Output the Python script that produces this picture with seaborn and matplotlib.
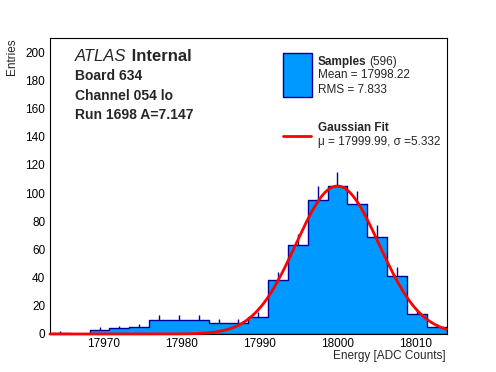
import numpy as np
import pandas as pd
import matplotlib
matplotlib.use("Agg")
import matplotlib.pyplot as plt
from matplotlib.ticker import MultipleLocator, FixedLocator
import seaborn as sns

# ---- data ----
x_min, x_max = 17963.17, 18013.96
counts = [1, 0, 3, 4, 5, 10, 10, 10, 8, 8, 12, 38, 63, 95, 105, 92, 69, 41, 14, 5]
n_entries = 596
mean_text = "17998.22"
rms_text = "7.833"
fit_mu = 17999.99
fit_sigma = 5.332
fit_amp = 105.0
x_ticks = [17970, 17980, 17990, 18000, 18010]
y_ticks = [0, 20, 40, 60, 80, 100, 120, 140, 160, 180, 200]
y_max = 210

fill_color = "#0099ff"
edge_color = "#000099"
fit_color = "#ff0000"

sns.set_theme(style="white")
plt.rcParams["font.family"] = ["Liberation Sans", "DejaVu Sans"]

W, H = 496, 372
fig = plt.figure(figsize=(W / 100, H / 100), dpi=100)
ax = fig.add_axes([50 / W, 1 - 334 / H, 396.5 / W, 296 / H])

edges = np.linspace(x_min, x_max, len(counts) + 1)
centers = 0.5 * (edges[:-1] + edges[1:])
df = pd.DataFrame({"energy": centers, "n": counts})

# error bars (drawn under the filled histogram)
cnt = np.array(counts, dtype=float)
mask = cnt > 0
ax.vlines(centers[mask], cnt[mask] - np.sqrt(cnt[mask]), cnt[mask] + np.sqrt(cnt[mask]),
          color=edge_color, lw=1.0, zorder=1)

sns.histplot(data=df, x="energy", weights="n", bins=len(counts), binrange=(x_min, x_max),
             element="step", fill=True, color=fill_color, edgecolor=edge_color,
             linewidth=1.0, alpha=1.0, ax=ax, zorder=2)

# gaussian fit curve from the fit parameters
xf = np.linspace(x_min, x_max, 400)
yf = fit_amp * np.exp(-0.5 * ((xf - fit_mu) / fit_sigma) ** 2)
sns.lineplot(x=xf, y=yf, color=fit_color, lw=2.0, ax=ax, zorder=3)
for ln in ax.get_lines():
    ln.set_clip_on(False)

ax.set_xlim(x_min, x_max)
ax.set_ylim(0, y_max)
ax.xaxis.set_major_locator(FixedLocator(x_ticks))
ax.xaxis.set_minor_locator(MultipleLocator(2))
ax.yaxis.set_major_locator(FixedLocator(y_ticks))
ax.yaxis.set_minor_locator(MultipleLocator(4))
ax.tick_params(which="both", direction="in", top=False, right=False, colors="black",
               labelsize=8.5, width=0.8)
ax.tick_params(axis="x", which="major", length=6.5, pad=3)
ax.tick_params(axis="x", which="minor", length=3.3)
ax.tick_params(axis="y", which="major", length=7.5, pad=3.5)
ax.tick_params(axis="y", which="minor", length=3.8)
for s in ax.spines.values():
    s.set_color("black")
    s.set_linewidth(0.8)
ax.set_xlabel("")
ax.set_ylabel("")
ax.grid(False)

def P(x, y):
    return (x / W, 1 - y / H)

fig.text(*P(446, 356.5), "Energy [ADC Counts]", ha="right", va="center", fontsize=8.5)
fig.text(*P(12, 38), "Entries", ha="center", va="top", rotation=90, fontsize=8.5)

fig.canvas.draw()
r = fig.canvas.get_renderer()

def chain(x, y, parts, size):
    cur = x
    for txt, kw in parts:
        t = fig.text(*P(cur, y), txt, ha="left", va="center", fontsize=size, **kw)
        bb = t.get_window_extent(renderer=r)
        cur = bb.x1 * W / fig.bbox.width
    return cur

chain(75, 56.5, [("ATLAS", {"style": "italic"}), (" Internal", {"weight": "bold"})], 12)
fig.text(*P(75, 76), "Board 634", ha="left", va="center", fontsize=10, weight="bold")
fig.text(*P(75, 95.7), "Channel 054 lo", ha="left", va="center", fontsize=10, weight="bold")
fig.text(*P(75, 115), "Run 1698 A=7.147", ha="left", va="center", fontsize=10, weight="bold")

# legend-like box
from matplotlib.patches import Rectangle
from matplotlib.lines import Line2D
x0, y0 = P(283.3, 96.7)
x1, y1 = P(311.7, 53.3)
fig.add_artist(Rectangle((x0, y0), x1 - x0, y1 - y0, transform=fig.transFigure,
                         facecolor=fill_color, edgecolor=edge_color, lw=1.0))
end = chain(318, 61.7, [("Samples", {"weight": "bold"})], 8.5)
fig.text(*P(end + 3, 61.7), f"({n_entries})", ha="left", va="center", fontsize=8.5)
fig.text(*P(318, 75.5), f"Mean = {mean_text}", ha="left", va="center", fontsize=8.5)
fig.text(*P(318, 90), f"RMS = {rms_text}", ha="left", va="center", fontsize=8.5)
lx0, ly = P(283, 136)
lx1, _ = P(311, 136)
fig.add_artist(Line2D([lx0, lx1], [ly, ly], transform=fig.transFigure, color=fit_color, lw=2.0))
fig.text(*P(318, 128), "Gaussian Fit", ha="left", va="center", fontsize=8.5, weight="bold")
fig.text(*P(318, 141.5), f"\u03bc = {fit_mu:.2f}, \u03c3 ={fit_sigma:.3f}", ha="left",
         va="center", fontsize=8.5)

fig.savefig("out.png", dpi=100, facecolor="white")
